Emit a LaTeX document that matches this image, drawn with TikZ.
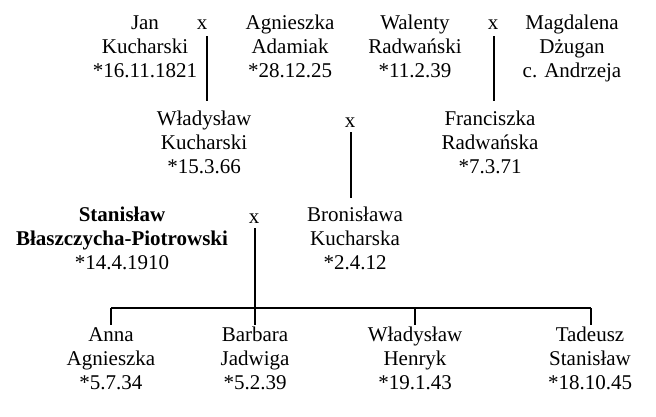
\documentclass[tikz,border=0pt]{standalone}
\usepackage{fontspec}
\setmainfont{Liberation Serif}
\begin{document}
\begin{tikzpicture}[x=1pt,y=-1pt,
  person/.style={align=center,inner sep=0pt,font=\fontsize{21}{24}\selectfont,
    execute at begin node=\strut, execute at end node=\strut},
  marr/.style={inner sep=0pt,anchor=base,font=\fontsize{21}{24}\selectfont},
  link/.style={line width=2pt}]
\useasboundingbox (0,0) rectangle (656,416);
% generation 1
\node[person] (jan) at (145,50) {Jan\\Kucharski\\*16.11.1821};
\node[marr] (x1) at (202,29.5) {x};
\node[person] (agn) at (290,50) {Agnieszka\\Adamiak\\*28.12.25};
\node[person] (wal) at (415,50) {Walenty\\Radwański\\*11.2.39};
\node[marr] (x2) at (493,29.5) {x};
\node[person] (mag) at (572,50) {Magdalena\\Dżugan\\c. Andrzeja};
% generation 2
\node[person] (wla) at (204,146) {Władysław\\Kucharski\\*15.3.66};
\node[marr] (x3) at (350,127) {x};
\node[person] (fra) at (490,146) {Franciszka\\Radwańska\\*7.3.71};
% generation 3
\node[person,font=\fontsize{21}{24}\selectfont\bfseries] (sta) at (122,242) {Stanisław\\Błaszczycha-Piotrowski\\\normalfont*14.4.1910};
\node[marr] (x4) at (254,223.5) {x};
\node[person] (bro) at (355,242) {Bronisława\\Kucharska\\*2.4.12};
% children
\node[person] (ann) at (111,362) {Anna\\Agnieszka\\*5.7.34};
\node[person] (bar) at (255,362) {Barbara\\Jadwiga\\*5.2.39};
\node[person] (whe) at (415,362) {Władysław\\Henryk\\*19.1.43};
\node[person] (tad) at (590,362) {Tadeusz\\Stanisław\\*18.10.45};
% connectors
\coordinate (c1) at (207,36);
\coordinate (c1e) at (207,101);
\draw[link] (c1) -- (c1e);
\coordinate (c2) at (494,36);
\coordinate (c2e) at (494,101);
\draw[link] (c2) -- (c2e);
\coordinate (c3) at (351,132);
\coordinate (c3e) at (351,198);
\draw[link] (c3) -- (c3e);
\coordinate (c4) at (255,228);
\coordinate (hb) at (255,308);
\draw[link] (c4) -- (hb);
\coordinate (hl) at (111,308);
\coordinate (hr) at (591,308);
\draw[link] (hl) -- (hr);
\coordinate (d1) at (111,325);
\coordinate (d2) at (255,325);
\coordinate (d3) at (415,308);
\coordinate (d3e) at (415,325);
\coordinate (d4e) at (591,325);
\draw[link] (hl) -- (d1);
\draw[link] (hb) -- (d2);
\draw[link] (d3) -- (d3e);
\draw[link] (hr) -- (d4e);
\end{tikzpicture}
\end{document}
